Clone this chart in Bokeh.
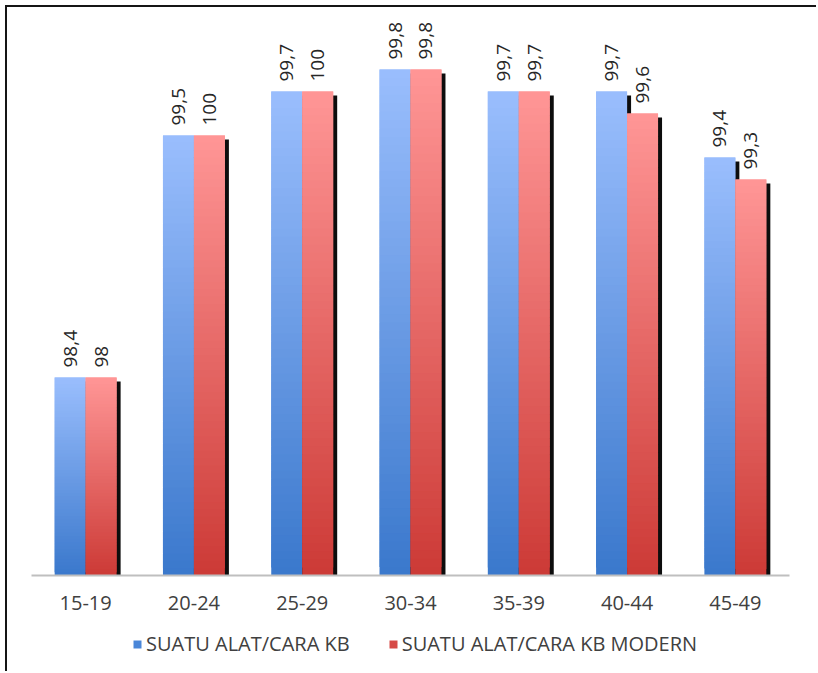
import math
from bokeh.plotting import figure
from bokeh.layouts import column
from bokeh.models import ColumnDataSource, FactorRange, Legend, LegendItem, Range1d
from bokeh.transform import dodge
from bokeh.core.properties import value
from bokeh.embed import file_html
from bokeh.resources import INLINE

# ---------------- data ----------------
groups = ["15-19", "20-24", "25-29", "30-34", "35-39", "40-44", "45-49"]
kb_any = [98.4, 99.5, 99.7, 99.8, 99.7, 99.7, 99.4]            # bar heights as drawn
kb_modern = [98.4, 99.5, 99.7, 99.8, 99.7, 99.6, 99.3]         # bar heights as drawn
kb_any_labels = ["98,4", "99,5", "99,7", "99,8", "99,7", "99,7", "99,4"]
kb_modern_labels = ["98", "100", "100", "99,8", "99,7", "99,6", "99,3"]
series_names = ["SUATU ALAT/CARA KB", "SUATU ALAT/CARA KB MODERN"]

# ---------------- style ----------------
Y_MIN, Y_MAX = 97.5, 100.05
BAR_W = 0.286
OFFSETS = [-0.143, 0.143]
SHADOW_DX = 0.037
SHADOW_DY = 0.018
N_SEG = 60
FONT = "Open Sans"
GRADIENTS = [((0x9A, 0xBE, 0xFD), (0x3A, 0x78, 0xCC)),
             ((0xFF, 0x96, 0x96), (0xCC, 0x3A, 0x36))]
LEGEND_COLORS = ["#4A86D8", "#D64A46"]


def lerp_color(c0, c1, t):
    return "#%02x%02x%02x" % tuple(int(round(a + (b - a) * t)) for a, b in zip(c0, c1))


p = figure(width=809, height=620, x_range=FactorRange(*groups, range_padding=0),
           y_range=Range1d(Y_MIN, Y_MAX), output_backend="svg", toolbar_location=None,
           min_border_left=24, min_border_right=27, min_border_top=7, min_border_bottom=52)
p.outline_line_color = None
p.xgrid.visible = False
p.ygrid.visible = False
p.yaxis.visible = False
p.background_fill_color = "white"
p.border_fill_color = "white"

# separate strip for the legend, below the chart
lg = figure(width=809, height=44, x_range=Range1d(0, 1), y_range=Range1d(0, 1),
            output_backend="svg", toolbar_location=None,
            min_border_left=0, min_border_right=0, min_border_top=0, min_border_bottom=0)
lg.axis.visible = False
lg.grid.visible = False
lg.outline_line_color = None
lg.border_fill_color = "white"

legend_items = []
for s, (vals, labels) in enumerate([(kb_any, kb_any_labels), (kb_modern, kb_modern_labels)]):
    off = OFFSETS[s]
    # shadow
    sh = ColumnDataSource(dict(cat=groups, top=[v - SHADOW_DY for v in vals],
                               bottom=[Y_MIN] * len(vals)))
    p.vbar(x=dodge("cat", off + SHADOW_DX, range=p.x_range), top="top", bottom="bottom",
           width=BAR_W, source=sh, fill_color="black", line_color=None, fill_alpha=0.95)
    # gradient segments (each overlaps the next one, drawn bottom to top)
    cats, tops, bots, cols = [], [], [], []
    top_c, bot_c = GRADIENTS[s]
    for g, v in zip(groups, vals):
        h = v - Y_MIN
        for i in range(N_SEG):
            b = Y_MIN + h * i / N_SEG
            t = Y_MIN + h * (i + 2) / N_SEG
            cats.append(g)
            bots.append(b)
            tops.append(min(t, v))
            cols.append(lerp_color(bot_c, top_c, (i + 0.5) / N_SEG))
    seg = ColumnDataSource(dict(cat=cats, top=tops, bottom=bots, color=cols))
    p.vbar(x=dodge("cat", off, range=p.x_range), top="top", bottom="bottom", width=BAR_W,
           source=seg, fill_color="color", line_color=None)
    # labels
    ls = ColumnDataSource(dict(cat=groups, y=vals, txt=labels))
    p.text(x=dodge("cat", off, range=p.x_range), y="y", text="txt", source=ls,
           angle=math.pi / 2, text_align="left", text_baseline="middle", y_offset=-10,
           text_font=value(FONT), text_font_size="19px", text_color="#262626")
    # legend proxy (zero-height bar in the legend strip)
    proxy = lg.vbar(x=[0.5], top=[0], bottom=[0], width=0.0,
                    fill_color=LEGEND_COLORS[s], line_color=None)
    legend_items.append(LegendItem(label=series_names[s], renderers=[proxy]))

xa = p.xaxis[0]
xa.axis_line_color = "#BFBFBF"
xa.axis_line_width = 2
xa.major_tick_line_color = None
xa.minor_tick_line_color = None
xa.major_label_standoff = 14
xa.major_label_text_font = FONT
xa.major_label_text_font_size = "20px"
xa.major_label_text_color = "#404040"

legend = Legend(items=legend_items, orientation="horizontal", location=(101, 14))
legend.label_text_font = FONT
legend.label_text_font_size = "20px"
legend.label_text_color = "#404040"
legend.glyph_width = 10
legend.glyph_height = 10
legend.spacing = 38
legend.label_standoff = 4
legend.border_line_color = None
legend.background_fill_alpha = 0
legend.padding = 2
legend.margin = 0
lg.add_layout(legend, "center")

page = column(p, lg, spacing=0)
page.styles = {"border-top": "2px solid #151515", "border-left": "2px solid #151515",
               "margin-left": "5px", "margin-top": "5px"}

open("out.html", "w").write(file_html(page, INLINE))
